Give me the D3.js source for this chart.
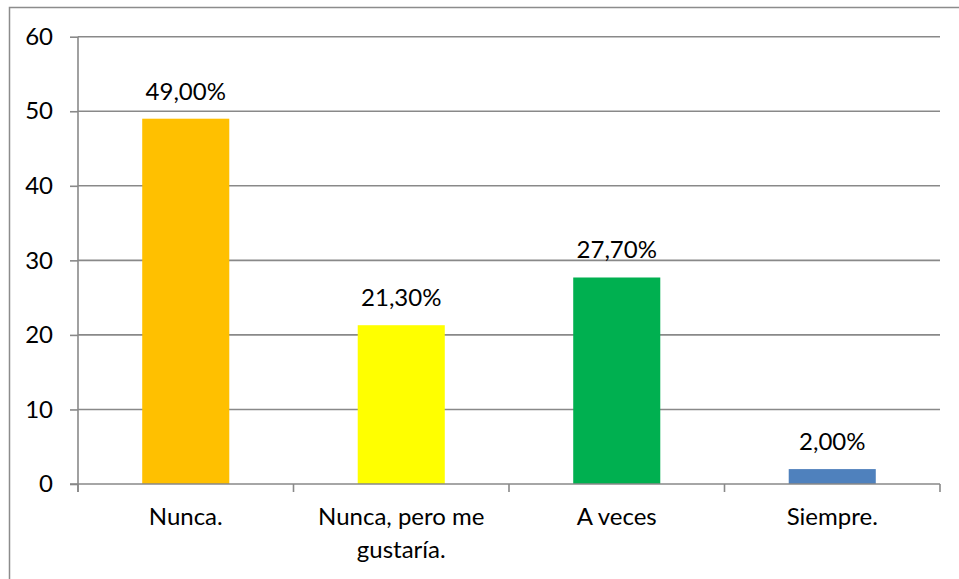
<!DOCTYPE html>
<html>
<head>
<meta charset="utf-8">
<script src="https://cdn.jsdelivr.net/npm/d3@7"></script>
<style>
  html, body { margin: 0; padding: 0; background: #fff; }
  svg { display: block; }
  text { font-family: Lato, "Open Sans", sans-serif; fill: #000; }
</style>
</head>
<body>
<svg id="chart" width="959" height="579"></svg>
<script>
const categories = ["Nunca.", "Nunca, pero me gustaría.", "A veces", "Siempre."];
const categoryLines = [["Nunca."], ["Nunca, pero me", "gustaría."], ["A veces"], ["Siempre."]];
const values = [49.0, 21.3, 27.7, 2.0];
const valueLabels = ["49,00%", "21,30%", "27,70%", "2,00%"];
const barColors = ["#FFC000", "#FFFF00", "#00B050", "#4F81BD"];
const yTicks = [0, 10, 20, 30, 40, 50, 60];

(function () {
const svg = d3.select("#chart");
const W = 959, H = 579;
const pLeft = 78, pRight = 940, pTop = 36.7, pBottom = 484;
const fontSize = 24;
const gridColor = "#898989";

// outer chart border
svg.append("rect")
  .attr("x", 9.5).attr("y", 7.5)
  .attr("width", W + 20).attr("height", H + 20)
  .attr("fill", "none").attr("stroke", "#8c8c8c").attr("stroke-width", 1.5);

const x = d3.scaleBand().domain(categories).range([pLeft, pRight]).paddingInner(0.596).paddingOuter(0.298);
const xb = d3.scaleBand().domain(categories).range([pLeft, pRight]).padding(0);
const y = d3.scaleLinear().domain([0, 60]).range([pBottom, pTop]);

// gridlines
svg.append("g").selectAll("line").data(yTicks.filter(d => d > 0)).join("line")
  .attr("x1", pLeft).attr("x2", pRight)
  .attr("y1", d => y(d)).attr("y2", d => y(d))
  .attr("stroke", gridColor).attr("stroke-width", 1.6);

// bars
svg.append("g").selectAll("rect").data(values).join("rect")
  .attr("x", (d, i) => x(categories[i]))
  .attr("width", x.bandwidth())
  .attr("y", d => y(d))
  .attr("height", d => y(0) - y(d))
  .attr("fill", (d, i) => barColors[i]);

// y axis
const yAxis = d3.axisLeft(y).tickValues(yTicks).tickSize(8).tickPadding(17).tickFormat(d3.format("d"));
const gy = svg.append("g").attr("transform", `translate(${pLeft},0)`).call(yAxis);
gy.select(".domain").attr("stroke", gridColor).attr("stroke-width", 1.6).attr("d", `M0,${pTop}V${pBottom + 8}`);
gy.selectAll(".tick line").attr("stroke", gridColor).attr("stroke-width", 1.6);
gy.selectAll(".tick text").attr("font-size", fontSize).attr("font-family", "Lato, sans-serif").attr("fill", "#000");

// x axis line and boundary ticks
svg.append("line").attr("x1", pLeft - 8).attr("x2", pRight).attr("y1", pBottom).attr("y2", pBottom)
  .attr("stroke", gridColor).attr("stroke-width", 1.6);
const bounds = categories.map(c => xb(c)).concat([pRight]);
svg.append("g").selectAll("line").data(bounds).join("line")
  .attr("x1", d => d).attr("x2", d => d)
  .attr("y1", pBottom).attr("y2", pBottom + 8)
  .attr("stroke", gridColor).attr("stroke-width", 1.6);

// category labels
const lab = svg.append("g").selectAll("text").data(categoryLines).join("text")
  .attr("text-anchor", "middle")
  .attr("font-size", fontSize)
  .attr("x", (d, i) => xb(categories[i]) + xb.bandwidth() / 2)
  .attr("y", 525);
lab.selectAll("tspan").data(d => d).join("tspan")
  .attr("x", function() { return this.parentNode.getAttribute("x"); })
  .attr("dy", (d, j) => j === 0 ? 0 : 33)
  .text(d => d);

// value labels
svg.append("g").selectAll("text").data(values).join("text")
  .attr("text-anchor", "middle")
  .attr("font-size", fontSize)
  .attr("x", (d, i) => x(categories[i]) + x.bandwidth() / 2)
  .attr("y", d => y(d) - 19)
  .text((d, i) => valueLabels[i]);
})();
</script>
</body>
</html>
